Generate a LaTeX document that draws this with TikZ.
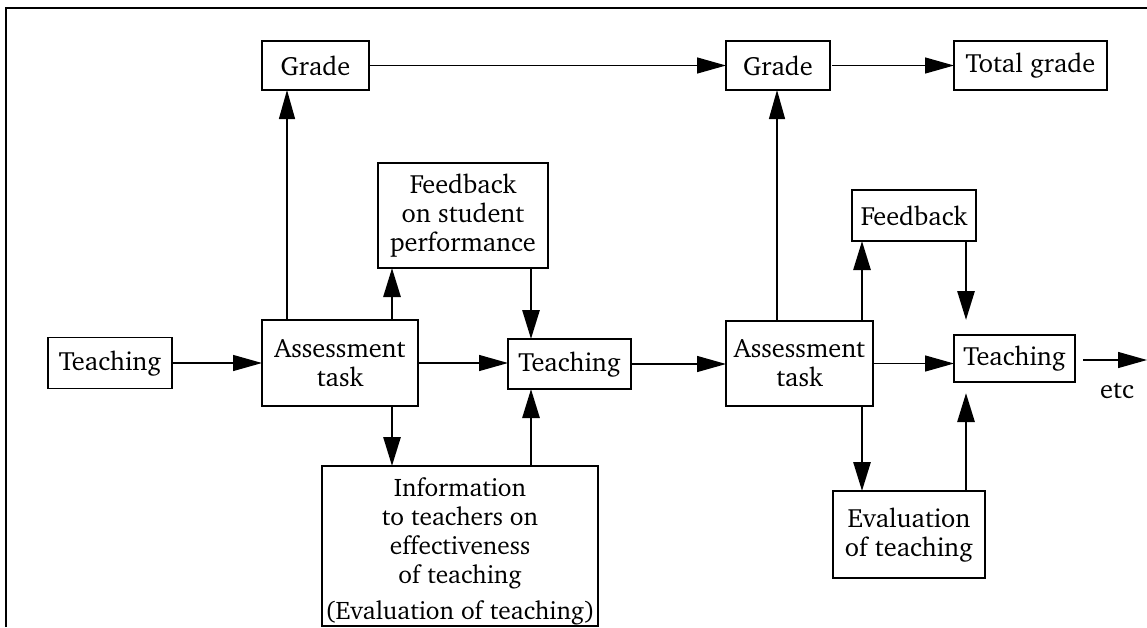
\documentclass[tikz,border=0pt]{standalone}
\usepackage[T1]{fontenc}
\usepackage{charter}
\usetikzlibrary{arrows.meta}
\begin{document}
\begin{tikzpicture}[x=1pt,y=-1pt,
  box/.style={draw, line width=1.2pt, inner sep=0pt, outer sep=0pt, align=center, font=\fontsize{26.4}{29}\selectfont},
  lbl/.style={inner sep=0pt, font=\fontsize{26.4}{29}\selectfont},
  thinarr/.style={line width=1.3pt, -{Triangle[length=29pt,width=16pt]}},
  thickarr/.style={line width=2.8pt, -{Triangle[length=29pt,width=17pt]}},
  frame/.style={line width=1.3pt}]
\useasboundingbox (0,0) rectangle (1147,627);
\draw[frame] (6,627) -- (6,8) -- (1147,8);

\node[box, minimum width=107pt, minimum height=49pt] (grade1) at (315.5,65.5) {Grade};
\node[box, minimum width=104pt, minimum height=49pt] (grade2) at (778,65.5) {Grade};
\node[box, minimum width=153pt, minimum height=49pt] (total) at (1030.5,65.5) {Total grade};
\node[box, minimum width=124pt, minimum height=51pt] (teach1) at (110,363) {Teaching};
\node[box, minimum width=156pt, minimum height=86pt] (assess1) at (340,363) {Assessment\\task};
\node[box, minimum width=170pt, minimum height=105pt] (fb1) at (463,215.5) {Feedback\\on student\\performance};
\node[box, minimum width=276pt, minimum height=160pt, font=\fontsize{25.4}{29}\selectfont] (info) at (460,546) {\rule{0pt}{29pt}Information\\to teachers on\\effectiveness\\of teaching\\[7pt](Evaluation of teaching)};
\node[box, minimum width=123pt, minimum height=50pt] (teach2) at (569.5,364) {Teaching};
\node[box, minimum width=147pt, minimum height=85pt] (assess2) at (799.5,363.5) {Assessment\\task};
\node[box, minimum width=124pt, minimum height=51pt] (fb2) at (914,215.5) {Feedback};
\node[box, minimum width=121pt, minimum height=47pt] (teach3) at (1014.5,358.5) {Teaching};
\node[box, minimum width=152pt, minimum height=87pt] (eval) at (909,534.5) {Evaluation\\of teaching};
\node[lbl, anchor=base] (etc) at (1117,398) {etc};
\coordinate (etcend) at (1147,360);

\draw[thinarr] (grade1.east) -- (grade2.west);
\draw[thinarr, shorten <=2pt] (grade2.east) -- (total.west);
\draw[thinarr] (teach1.east) -- (teach1.east -| assess1.west);
\draw[thinarr] (assess1.north -| 287,0) -- (grade1.south -| 287,0);
\draw[thickarr] (assess1.north -| 392,0) -- (fb1.south -| 392,0);
\draw[thickarr] (fb1.south -| 531,0) -- (teach2.north -| 531,0);
\draw[thinarr] (assess1.east) -- (assess1.east -| teach2.west);
\draw[thickarr] (assess1.south -| 392,0) -- (info.north -| 392,0);
\draw[thickarr] (info.north -| 531,0) -- (teach2.south -| 531,0);
\draw[thinarr] (teach2.east) -- (teach2.east -| assess2.west);
\draw[thinarr] (assess2.north -| 777,0) -- (grade2.south -| 777,0);
\draw[thickarr] (assess2.north -| 862,0) -- (fb2.south -| 862,0);
\draw[thickarr, shorten >=15pt] (fb2.south -| 966,0) -- (teach3.north -| 966,0);
\draw[thinarr] (assess2.east) -- (assess2.east -| teach3.west);
\draw[thickarr] (assess2.south -| 862,0) -- (eval.north -| 862,0);
\draw[thickarr, shorten >=11pt] (eval.north -| 966,0) -- (teach3.south -| 966,0);
\draw[thinarr, shorten <=8pt] (teach3.east |- etcend) -- (etcend);
\end{tikzpicture}
\end{document}
